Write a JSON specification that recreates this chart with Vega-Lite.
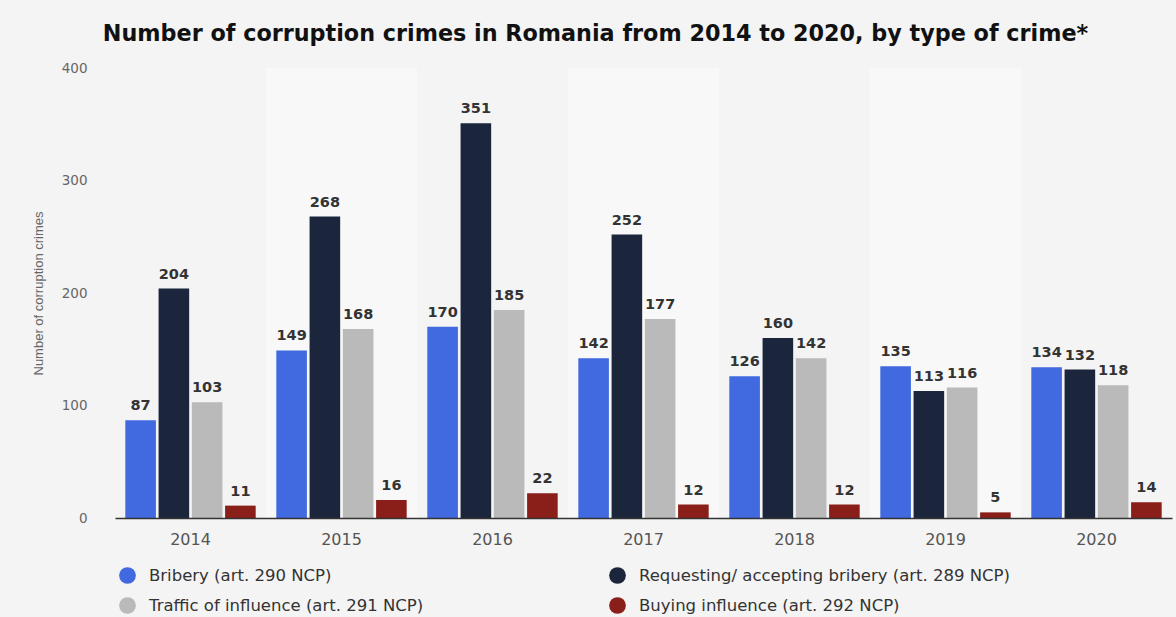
{
  "$schema": "https://vega.github.io/schema/vega-lite/v6.json",
  "width": 1057,
  "height": 450,
  "autosize": {"type": "none"},
  "padding": {"left": 115, "top": 68, "right": 4, "bottom": 99},
  "background": "#f4f4f4",
  "config": {"view": {"stroke": null}, "font": "DejaVu Sans"},
  "title": {
    "text": "Number of corruption crimes in Romania from 2014 to 2020, by type of crime*",
    "font": "DejaVu Sans",
    "fontSize": 22.3,
    "fontWeight": "bold",
    "color": "#111111",
    "anchor": "middle",
    "frame": "group",
    "dx": -48,
    "offset": 16
  },
  "data": {
    "values": [
      {"year": "2014", "type": "Bribery (art. 290 NCP)", "count": 87},
      {"year": "2014", "type": "Requesting/ accepting bribery (art. 289 NCP)", "count": 204},
      {"year": "2014", "type": "Traffic of influence (art. 291 NCP)", "count": 103},
      {"year": "2014", "type": "Buying influence (art. 292 NCP)", "count": 11},
      {"year": "2015", "type": "Bribery (art. 290 NCP)", "count": 149},
      {"year": "2015", "type": "Requesting/ accepting bribery (art. 289 NCP)", "count": 268},
      {"year": "2015", "type": "Traffic of influence (art. 291 NCP)", "count": 168},
      {"year": "2015", "type": "Buying influence (art. 292 NCP)", "count": 16},
      {"year": "2016", "type": "Bribery (art. 290 NCP)", "count": 170},
      {"year": "2016", "type": "Requesting/ accepting bribery (art. 289 NCP)", "count": 351},
      {"year": "2016", "type": "Traffic of influence (art. 291 NCP)", "count": 185},
      {"year": "2016", "type": "Buying influence (art. 292 NCP)", "count": 22},
      {"year": "2017", "type": "Bribery (art. 290 NCP)", "count": 142},
      {"year": "2017", "type": "Requesting/ accepting bribery (art. 289 NCP)", "count": 252},
      {"year": "2017", "type": "Traffic of influence (art. 291 NCP)", "count": 177},
      {"year": "2017", "type": "Buying influence (art. 292 NCP)", "count": 12},
      {"year": "2018", "type": "Bribery (art. 290 NCP)", "count": 126},
      {"year": "2018", "type": "Requesting/ accepting bribery (art. 289 NCP)", "count": 160},
      {"year": "2018", "type": "Traffic of influence (art. 291 NCP)", "count": 142},
      {"year": "2018", "type": "Buying influence (art. 292 NCP)", "count": 12},
      {"year": "2019", "type": "Bribery (art. 290 NCP)", "count": 135},
      {"year": "2019", "type": "Requesting/ accepting bribery (art. 289 NCP)", "count": 113},
      {"year": "2019", "type": "Traffic of influence (art. 291 NCP)", "count": 116},
      {"year": "2019", "type": "Buying influence (art. 292 NCP)", "count": 5},
      {"year": "2020", "type": "Bribery (art. 290 NCP)", "count": 134},
      {"year": "2020", "type": "Requesting/ accepting bribery (art. 289 NCP)", "count": 132},
      {"year": "2020", "type": "Traffic of influence (art. 291 NCP)", "count": 118},
      {"year": "2020", "type": "Buying influence (art. 292 NCP)", "count": 14}
    ]
  },
  "encoding": {
    "x": {
      "field": "year",
      "type": "nominal",
      "scale": {"domain": ["2014", "2015", "2016", "2017", "2018", "2019", "2020"], "paddingInner": 0, "paddingOuter": 0},
      "axis": {
        "title": null,
        "labelAngle": 0,
        "labelFont": "DejaVu Sans",
        "labelFontSize": 16,
        "labelColor": "#555555",
        "labelPadding": 13,
        "ticks": false,
        "grid": false,
        "domainColor": "#333333",
        "domainWidth": 1.5
      }
    }
  },
  "layer": [
    {
      "data": {"values": [{"year": "2015"}, {"year": "2017"}, {"year": "2019"}]},
      "mark": {"type": "rect", "color": "#f8f8f8"},
      "encoding": {
        "y": {"datum": 400, "type": "quantitative"},
        "y2": {"datum": 0}
      }
    },
    {
      "mark": {"type": "bar"},
      "encoding": {
        "y": {
          "field": "count",
          "type": "quantitative",
          "scale": {"domain": [0, 400], "nice": false},
          "axis": {
            "title": "Number of corruption crimes",
            "titleFont": "Liberation Sans",
            "titleFontSize": 13,
            "titleFontWeight": "normal",
            "titleColor": "#666666",
            "titlePadding": 16,
            "labelFont": "DejaVu Sans",
            "labelFontSize": 13.5,
            "labelColor": "#666666",
            "labelPadding": 28,
            "values": [0, 100, 200, 300, 400],
            "ticks": false,
            "domain": false,
            "gridDash": [1, 2],
            "gridColor": "#bbbbbb"
          }
        },
        "xOffset": {
          "field": "type",
          "type": "nominal",
          "sort": ["Bribery (art. 290 NCP)", "Requesting/ accepting bribery (art. 289 NCP)", "Traffic of influence (art. 291 NCP)", "Buying influence (art. 292 NCP)"],
          "scale": {"paddingInner": 0.08, "paddingOuter": 0.31}
        },
        "color": {
          "field": "type",
          "type": "nominal",
          "scale": {
            "domain": ["Bribery (art. 290 NCP)", "Requesting/ accepting bribery (art. 289 NCP)", "Traffic of influence (art. 291 NCP)", "Buying influence (art. 292 NCP)"],
            "range": ["#4169e0", "#1b263d", "#bababa", "#8a1e18"]
          },
          "legend": {
            "orient": "none",
            "legendX": 4,
            "legendY": 499,
            "direction": "horizontal",
            "columns": 2,
            "title": null,
            "symbolType": "circle",
            "symbolSize": 280,
            "symbolOpacity": 1,
            "symbolStrokeWidth": 0,
            "labelFont": "DejaVu Sans",
            "labelFontSize": 16.5,
            "labelColor": "#333333",
            "labelOffset": 13,
            "columnPadding": 185,
            "rowPadding": 13,
            "labelLimit": 500
          }
        }
      }
    },
    {
      "mark": {"type": "text", "baseline": "bottom", "dy": -7, "font": "DejaVu Sans", "fontSize": 14.5, "fontWeight": "bold", "color": "#333333"},
      "encoding": {
        "y": {"field": "count", "type": "quantitative"},
        "xOffset": {
          "field": "type",
          "type": "nominal",
          "sort": ["Bribery (art. 290 NCP)", "Requesting/ accepting bribery (art. 289 NCP)", "Traffic of influence (art. 291 NCP)", "Buying influence (art. 292 NCP)"]
        },
        "text": {"field": "count", "type": "quantitative"}
      }
    }
  ]
}
